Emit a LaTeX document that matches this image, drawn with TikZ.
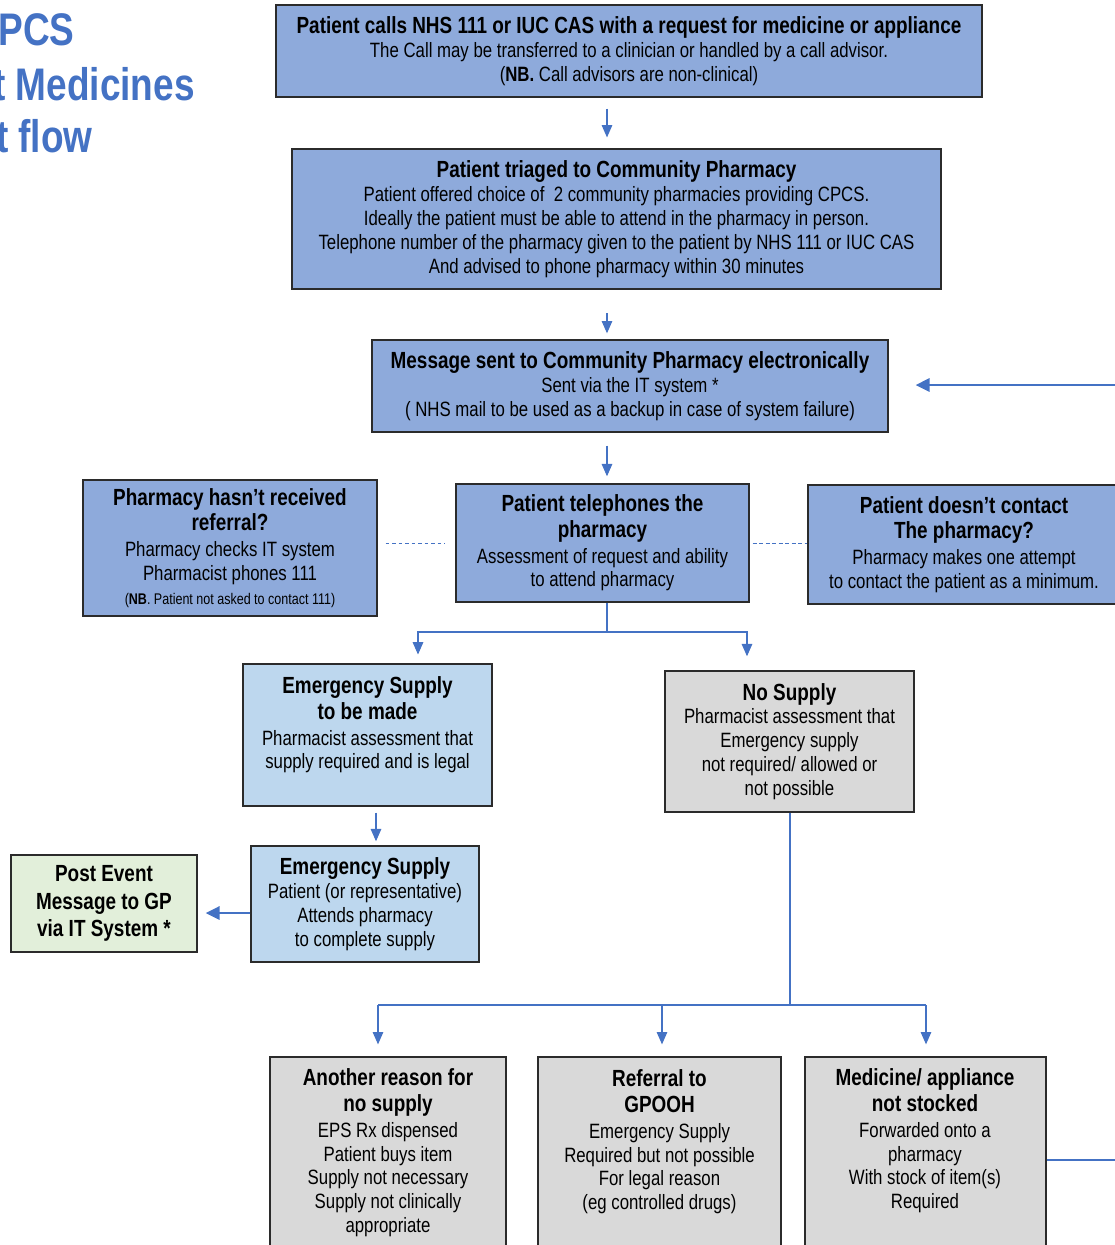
\documentclass[tikz,border=0pt]{standalone}
\usepackage{fontspec}
\setmainfont{Liberation Sans}[FakeStretch=0.81]
\usetikzlibrary{arrows.meta,calc}
\definecolor{midblue}{HTML}{8EAADB}
\definecolor{lightblue}{HTML}{BDD7EE}
\definecolor{greyfill}{HTML}{D9D9D9}
\definecolor{greenfill}{HTML}{E2EFDA}
\definecolor{arrowblue}{HTML}{4472C4}
\definecolor{bordercol}{HTML}{2B2B2B}
\newcommand{\ttl}{\fontsize{13.3}{14.5}\selectfont\bfseries}
\newcommand{\sml}{\fontsize{8.8}{10}\selectfont}
\begin{document}
\begin{tikzpicture}[x=0.02cm,y=-0.02cm,
 box/.style={draw=bordercol, line width=0.8pt, inner sep=0pt, align=center, font=\fontsize{11.8}{13.6}\selectfont},
 txt/.style={inner sep=0pt, align=center, font=\fontsize{11.8}{13.6}\selectfont},
 bigtitle/.style={inner sep=0pt, text=arrowblue, font=\fontsize{26}{30}\selectfont\bfseries},
 conn/.style={draw=arrowblue, line width=0.6pt},
 arr/.style={conn, -{Triangle[length=7pt,width=6pt]}},
 thickarr/.style={draw=arrowblue, line width=1.5pt, -{Triangle[length=8pt,width=7.5pt]}},
 dashconn/.style={draw=arrowblue, line width=0.45pt, dash pattern=on 2.2pt off 1.5pt},
]
\useasboundingbox (0,0) rectangle (1115,1245);
\clip (0,0) rectangle (1115,1245);

% title (cut at left edge, as in the reference)
\node[bigtitle, anchor=base east] (t1) at (75,45) {PCS};
\node[bigtitle, anchor=base east] (t2) at (195,100) {t Medicines};
\node[bigtitle, anchor=base east] (t3) at (93,152) {t flow};

% boxes
\node[box, fill=midblue, minimum width=706*0.02cm, minimum height=92*0.02cm] (call) at (629,51)
 {{\ttl Patient calls NHS 111 or IUC CAS with a request for medicine or appliance}\\
  The Call may be transferred to a clinician or handled by a call advisor.\\
  (\textbf{NB.} Call advisors are non-clinical)};
\node[box, fill=midblue, minimum width=649*0.02cm, minimum height=140*0.02cm] (triage) at (616.5,219)
 {{\ttl Patient triaged to Community Pharmacy}\\
  Patient offered choice of\ \ 2 community pharmacies providing CPCS.\\
  Ideally the patient must be able to attend in the pharmacy in person.\\
  Telephone number of the pharmacy given to the patient by NHS 111 or IUC CAS\\
  And advised to phone pharmacy within 30 minutes};
\node[box, fill=midblue, minimum width=516*0.02cm, minimum height=92*0.02cm] (msg) at (630,386)
 {{\ttl Message sent to Community Pharmacy electronically}\\
  Sent via the IT system *\\
  ( NHS mail to be used as a backup in case of system failure)};
\node[box, fill=midblue, minimum width=293*0.02cm, minimum height=118*0.02cm] (phone) at (602.5,543)
 {{\ttl Patient telephones the}\\[1pt]
  {\ttl pharmacy}\\[1pt]
  Assessment of request and ability\\
  to attend pharmacy};
\node[box, fill=midblue, minimum width=294*0.02cm, minimum height=136*0.02cm] (noref) at (230,548)
 {{\ttl Pharmacy hasn’t received}\\[1pt]
  {\ttl referral?}\\[1pt]
  Pharmacy checks IT system\\
  Pharmacist phones 111\\
  {\sml(\textbf{NB}. Patient not asked to contact 111)}};
\node[box, fill=midblue, minimum width=312*0.02cm, minimum height=119*0.02cm] (nocontact) at (964,544.5)
 {{\ttl Patient doesn’t contact}\\[1pt]
  {\ttl The pharmacy?}\\[1pt]
  Pharmacy makes one attempt\\
  to contact the patient as a minimum.};
\node[box, fill=lightblue, minimum width=249*0.02cm, minimum height=142*0.02cm] (emer) at (367.5,735) {};
\node[txt] (emerT) at (367.5,725)
 {{\ttl Emergency Supply}\\[1pt]
  {\ttl to be made}\\[1pt]
  Pharmacist assessment that\\
  supply required and is legal};
\node[box, fill=greyfill, minimum width=249*0.02cm, minimum height=141*0.02cm] (nosup) at (789.5,741.5)
 {{\ttl No Supply}\\
  Pharmacist assessment that\\
  Emergency supply\\
  not required/ allowed or\\
  not possible};
\node[box, fill=lightblue, minimum width=228*0.02cm, minimum height=116*0.02cm] (emer2) at (365,904)
 {{\ttl Emergency Supply}\\
  Patient (or representative)\\
  Attends pharmacy\\
  to complete supply};
\node[box, fill=greenfill, minimum width=186*0.02cm, minimum height=97*0.02cm, font=\ttl] (post) at (104,903.5)
 {Post Event\\[1pt] Message to GP\\[1pt] via IT System *};

\node[box, fill=greyfill, minimum width=236*0.02cm, minimum height=208*0.02cm] (another) at (388,1161) {};
\node[box, fill=greyfill, minimum width=243*0.02cm, minimum height=208*0.02cm] (referral) at (659.5,1161) {};
\node[box, fill=greyfill, minimum width=241*0.02cm, minimum height=208*0.02cm] (medicine) at (925.5,1161) {};
\node[txt] (anotherT) at (388,1153)
 {{\ttl Another reason for}\\[1pt]
  {\ttl no supply}\\[1pt]
  EPS Rx dispensed\\
  Patient buys item\\
  Supply not necessary\\
  Supply not clinically\\
  appropriate};
\node[txt] (referralT) at (659.5,1142)
 {{\ttl Referral to}\\[1pt]
  {\ttl GPOOH}\\[1pt]
  Emergency Supply\\
  Required but not possible\\
  For legal reason\\
  (eg controlled drugs)};
\node[txt] (medicineT) at (925,1141)
 {{\ttl Medicine/ appliance}\\[1pt]
  {\ttl not stocked}\\[1pt]
  Forwarded onto a\\
  pharmacy\\
  With stock of item(s)\\
  Required};

% helper coordinates
\coordinate (xa) at (607,0);
\coordinate (yd) at (0,543);
\coordinate (bL) at (418,632);
\coordinate (bR) at (747,632);
\coordinate (x376) at (376,0);
\coordinate (y913) at (0,913);
\coordinate (extR) at (1120,385);
\coordinate (nsJ) at (790,1005);
\coordinate (dA) at (378,1005);
\coordinate (dB) at (662,1005);
\coordinate (dC) at (926,1005);
\coordinate (edgeM) at (1120,1160);

% connectors
\draw[arr, shorten <=6.2pt, shorten >=6.2pt] (call.south -| xa) -- (triage.north -| xa);
\draw[arr, shorten <=13.3pt, shorten >=3.4pt] (triage.south -| xa) -- (msg.north -| xa);
\draw[arr, shorten <=7.4pt, shorten >=4pt] (msg.south -| xa) -- (phone.north -| xa);
\draw[thickarr, shorten >=15.3pt] (extR) -- (msg.east |- extR);
\draw[dashconn, shorten <=4.5pt, shorten >=5.6pt] (noref.east |- yd) -- (phone.west |- yd);
\draw[dashconn, shorten <=1.7pt] (phone.east |- yd) -- (nocontact.west |- yd);

\draw[conn] (phone.south -| xa) -- (bL -| xa);
\draw[arr, shorten >=5pt] (bL -| xa) -| (emer.north -| bL);
\draw[arr, shorten >=8pt] (bR -| xa) -| (nosup.north -| bR);

\draw[arr, shorten <=3.4pt, shorten >=2.3pt] (emer.south -| x376) -- (emer2.north -| x376);
\draw[thickarr, shorten >=4.5pt] (emer2.west |- y913) -- (post.east |- y913);

\draw[conn] (nosup.south -| nsJ) -- (nsJ);
\draw[conn] (dA) -- (dC);
\draw[arr, shorten >=6.8pt] (dA) -- (another.north -| dA);
\draw[arr, shorten >=6.8pt] (dB) -- (referral.north -| dB);
\draw[arr, shorten >=6.8pt] (dC) -- (medicine.north -| dC);
\draw[draw=arrowblue, line width=1.2pt] (medicine.east |- edgeM) -- (edgeM);
\end{tikzpicture}
\end{document}
